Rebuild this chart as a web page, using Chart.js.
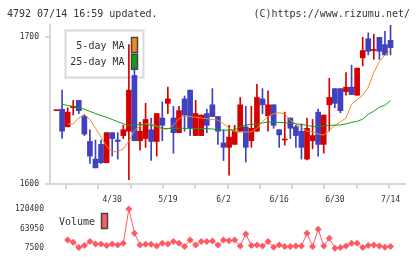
<!DOCTYPE html>
<html>
<head>
<meta charset="utf-8">
<script src="https://cdn.jsdelivr.net/npm/chart.js@4"></script>
<style>
  html, body { margin: 0; padding: 0; background: #fff; }
  #wrap { position: relative; width: 420px; height: 259px; }
  canvas { position: absolute; left: 0; top: 0; }
</style>
</head>
<body>
<div id="wrap">
  <canvas id="price" width="420" height="259"></canvas>
  <canvas id="vol" width="420" height="259"></canvas>
</div>
<script>
// header texts
const titleLeft = '4792 07/14 16:59 updated.'
const titleRight = '(C)https://www.rizumu.net/'

// trading days shown on the chart
const dates = ['4/15','4/16','4/17','4/18','4/21','4/22','4/23','4/24','4/25','4/28',
  '4/30','5/1','5/2','5/7','5/8','5/9','5/12','5/13','5/14','5/15',
  '5/19','5/20','5/21','5/22','5/23','5/26','5/27','5/28','5/29','5/30',
  '6/2','6/3','6/4','6/5','6/6','6/9','6/10','6/11','6/12','6/13',
  '6/16','6/17','6/18','6/19','6/20','6/23','6/24','6/25','6/26','6/27',
  '6/30','7/1','7/2','7/3','7/4','7/7','7/8','7/9','7/10','7/11','7/14']
const labelIdx = [10, 20, 30, 40, 50, 60]

// OHLC
const opens  = [1650,1651,1639,1652,1657,1646,1629,1617,1627,1614.5,
  1635,1630,1633,1636,1674,1629.5,1631,1637,1629,1645,
  1655,1645,1635,1658,1664,1633,1633,1648,1654,1646,
  1628,1625,1627,1636,1639,1629.5,1636,1658,1646.5,1654,
  1637,1630,1645,1639,1636,1617,1629.5,1649,1627,1654,
  1665,1665,1663,1666,1660.5,1686,1699,1691,1700,1695,1698]
const highs  = [1650,1664,1652,1657,1657,1647,1637,1630,1630,1635,
  1635,1635,1640,1695,1680,1642,1655,1645,1648,1656,
  1666,1653,1653,1660,1664,1657,1647,1651,1665,1646,
  1637,1640,1640,1659,1653,1653,1668,1665,1663.5,1654,
  1637,1649,1645,1640,1641,1645,1644,1651,1647,1672,
  1665,1665,1676,1681,1679,1700,1703,1702,1700,1704,1710]
const lows   = [1650,1631,1639,1647,1648,1633,1614,1611,1614,1614.5,
  1619,1617,1631,1603,1629.5,1623,1625,1616,1619,1629.5,
  1648,1621,1635,1636,1633,1633,1633,1635,1646,1627,
  1616,1606,1627,1636,1615,1625,1636,1648,1636,1638,
  1625,1626.5,1631,1625,1617,1616.5,1624,1619,1621,1636,
  1652,1648.5,1660.5,1661,1660.5,1680.5,1688,1685,1685,1688,1688]
const closes = [1650,1636,1649,1653,1650,1634,1619,1611,1614.5,1635,
  1631,1629,1637,1664,1629.5,1636,1644,1629,1648,1640,
  1658,1635,1650,1647,1638,1648,1647,1640,1646,1636,
  1625,1632,1636,1654,1625,1638,1659,1654,1654,1640,
  1633.5,1630,1638,1633,1625,1638,1633,1627,1647,1659,
  1655,1650,1666,1661,1679,1691,1690.5,1691,1690.5,1688,1693]

// moving averages
const ma5 = [null,null,1641,1641,1645,1647.5,1644,1638,1632,1625.5,
  1622,1622,1624,1629,1636.5,1639.5,1641,1641,1639.5,1637.5,
  1637.5,1640,1644.5,1646.3,1646,1645.5,1645,1644.5,1644,1643.5,
  1641,1638,1635.6,1635.3,1635.4,1635.6,1638,1642.6,1646,1648,
  1648.6,1647.8,1643.5,1641,1638.5,1636,1635.6,1634,1633.3,1636.5,
  1640,1642.4,1645,1654.5,1657.5,1660.5,1666,1676,1683.5,1688,1691]
const ma25 = [null,1654.4,1653.5,1653,1652,1651,1649.5,1648,1646.7,1645.5,
  1644,1642.5,1641,1640,1640.3,1640.8,1640.5,1640,1639,1638,
  1637.8,1638,1638,1638,1637.8,1637.8,1637.8,1637.8,1637.5,1637,
  1636.7,1636.7,1637,1639,1640.3,1640.6,1640.8,1641.7,1642.2,1642.2,
  1642,1641.8,1641.3,1641,1640.6,1640,1639.2,1639,1639.7,1640,
  1640.1,1640.3,1641,1642,1642.6,1644.2,1647.5,1649.7,1652.4,1653.7,1657]

// volume
const volumes = [null,null,31300,24700,9200,15000,26500,19800,19800,15000,
  19800,17000,21900,120400,50600,17000,19000,19000,14100,21900,
  19800,26500,21900,12100,31300,17000,26500,26500,28500,17000,
  31300,29300,31300,14100,48600,15000,17000,14100,26500,10400,
  17000,12100,12100,14100,14100,50600,12100,62100,14100,36200,
  7500,9500,14100,21900,21900,9200,15000,17000,14100,10400,12100]
const priceTicks = [1600, 1700]
const volTicks = [7500, 63950, 120400]

const RED = '#d40000'
const BLUE = '#4040c0'
const FONT = '"DejaVu Sans Mono", monospace'
const xMin = -1.17, xMax = 62.6

const candleColors = closes.map((c, i) => c >= opens[i] ? RED : BLUE)
const wicks = highs.map((h, i) => ({x: i, y: [lows[i], h]}))
const bodies = opens.map((o, i) => ({x: i, y: [Math.min(o, closes[i]), Math.max(o, closes[i])]}))
const toPoints = arr => arr.map((v, i) => ({x: i, y: v}))

const headerText = {
  id: 'headerText',
  afterDraw(chart) {
    const ctx = chart.ctx
    ctx.save()
    ctx.font = '10px ' + FONT
    ctx.fillStyle = '#333'
    ctx.textBaseline = 'middle'
    ctx.textAlign = 'left'
    ctx.fillText(titleLeft, 7, 14)
    ctx.textAlign = 'right'
    ctx.fillText(titleRight, 410, 14)
    ctx.restore()
  }
}

// legend box sits under the candles
const maLegend = {
  id: 'maLegend',
  beforeDatasetsDraw(chart) {
    const {ctx, chartArea: a} = chart
    const left = a.left + 15.5, top = a.top + 5.5
    ctx.save()
    ctx.fillStyle = '#fff'
    ctx.fillRect(left, top, 78, 47)
    ctx.strokeStyle = '#d8d8d8'
    ctx.lineWidth = 2
    ctx.strokeRect(left, top, 78, 47)
    ctx.font = '10px ' + FONT
    ctx.textAlign = 'right'
    ctx.textBaseline = 'middle'
    const lines = chart.data.datasets.filter(d => d.type === 'line')
    lines.forEach((d, k) => {
      const yTop = top + 7 + k * 16.8
      ctx.fillStyle = '#333'
      ctx.fillText(d.label, left + 59, yTop + 8.5)
      ctx.fillStyle = d.borderColor
      ctx.fillRect(left + 66, yTop, 6, 15)
      ctx.strokeStyle = '#444'
      ctx.lineWidth = 1.5
      ctx.strokeRect(left + 66, yTop, 6, 15)
    })
    ctx.restore()
  }
}

new Chart(document.getElementById('price'), {
  type: 'bar',
  data: {
    datasets: [
      {label: 'wick', data: wicks, backgroundColor: candleColors, barThickness: 1, grouped: false, order: 4},
      {label: 'body', data: bodies, backgroundColor: candleColors, barThickness: 5, grouped: false, minBarLength: 1, order: 3},
      {type: 'line', label: '5-day MA', data: toPoints(ma5), borderColor: '#f08c1e', borderWidth: 1, pointRadius: 0, order: 2},
      {type: 'line', label: '25-day MA', data: toPoints(ma25), borderColor: '#14a014', borderWidth: 1, pointRadius: 0, order: 1}
    ]
  },
  options: {
    responsive: false,
    animation: false,
    events: [],
    layout: {padding: {left: 0, right: 15, top: 25, bottom: 0}},
    plugins: {legend: {display: false}, tooltip: {enabled: false}},
    scales: {
      x: {
        type: 'linear', min: xMin, max: xMax, offset: false, position: 'bottom', weight: 1,
        grid: {display: false, drawTicks: false},
        border: {display: false},
        afterBuildTicks: s => { s.ticks = labelIdx.map(v => ({value: v})) },
        afterFit: s => { s.height = 70 },
        ticks: {font: {family: FONT, size: 8}, color: '#333', padding: 6, maxRotation: 0,
          callback: v => dates[v]}
      },
      xt: {
        type: 'linear', min: 0, max: 11, offset: false, position: 'bottom', weight: 0,
        grid: {drawOnChartArea: false, tickLength: 5, color: '#d8d8d8', lineWidth: 2},
        border: {color: '#d8d8d8', width: 2},
        afterFit: s => { s.height = 5 },
        ticks: {display: false, stepSize: 1}
      },
      y: {
        min: 1600, max: 1708.4,
        grid: {drawOnChartArea: false, tickLength: 5, color: '#d8d8d8', lineWidth: 2},
        border: {color: '#d8d8d8', width: 2},
        afterBuildTicks: s => { s.ticks = priceTicks.map(v => ({value: v})) },
        afterFit: s => { s.width = 50 },
        ticks: {font: {family: FONT, size: 8}, color: '#333', padding: 6, callback: v => String(v)}
      }
    }
  },
  plugins: [headerText, maLegend]
})

const volLabel = {
  id: 'volLabel',
  beforeDatasetsDraw(chart) {
    const {ctx, chartArea: a} = chart
    const ds = chart.data.datasets[0]
    ctx.save()
    ctx.font = '10px ' + FONT
    ctx.fillStyle = '#333'
    ctx.textAlign = 'left'
    ctx.textBaseline = 'middle'
    ctx.fillText(ds.label, a.left + 9, a.top + 13)
    ctx.fillStyle = ds.borderColor
    ctx.fillRect(a.left + 51.5, a.top + 4.5, 6, 15)
    ctx.strokeStyle = '#444'
    ctx.lineWidth = 1.5
    ctx.strokeRect(a.left + 51.5, a.top + 4.5, 6, 15)
    ctx.restore()
  }
}

new Chart(document.getElementById('vol'), {
  type: 'line',
  data: {
    datasets: [{
      label: 'Volume', data: toPoints(volumes),
      borderColor: '#ff5a64', backgroundColor: '#ff5a64', borderWidth: 1,
      pointStyle: 'rectRot', pointRadius: 3.5, pointBorderWidth: 0, clip: false
    }]
  },
  options: {
    responsive: false,
    animation: false,
    events: [],
    layout: {padding: {left: 0, right: 15, top: 209, bottom: 10.7}},
    plugins: {legend: {display: false}, tooltip: {enabled: false}},
    scales: {
      x: {type: 'linear', min: xMin, max: xMax, display: false},
      y: {
        min: 7500, max: 120400,
        grid: {display: false, drawTicks: false},
        border: {display: false},
        afterBuildTicks: s => { s.ticks = volTicks.map(v => ({value: v})) },
        afterFit: s => { s.width = 50 },
        ticks: {font: {family: FONT, size: 8}, color: '#333', padding: 6, callback: v => String(v)}
      }
    }
  },
  plugins: [volLabel]
})
</script>
</body>
</html>
